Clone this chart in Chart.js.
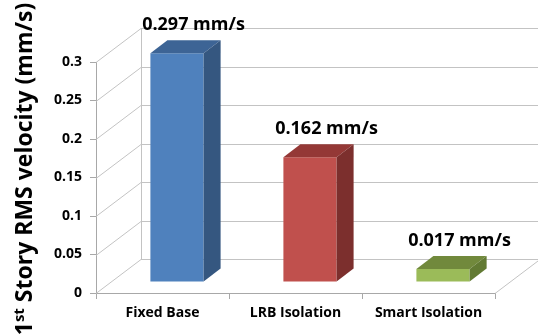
<!DOCTYPE html>
<html>
<head>
<meta charset="utf-8">
<script src="https://cdn.jsdelivr.net/npm/chart.js@4.4.1/dist/chart.umd.min.js"></script>
<style>
  html, body { margin: 0; padding: 0; background: #ffffff; }
  #wrap { width: 538px; height: 335px; }
</style>
</head>
<body>
<div id="wrap"><canvas id="rmsChart" width="538" height="335"></canvas></div>
<script>
// RMS velocity of the first story for each base type
const categories = ['Fixed Base', 'LRB Isolation', 'Smart Isolation'];
const rmsVelocity = [0.297, 0.162, 0.017];
const yTickLabels = ['0', '0.05', '0.1', '0.15', '0.2', '0.25', '0.3'];
const valueUnit = 'mm/s';

// face colours: front / top / side
const frontColors = ['#4f81bd', '#c0504d', '#9bbb59'];
const topColors = ['#3d6495', '#943836', '#71893c'];
const sideColors = ['#355780', '#7c2f2d', '#627a33'];

const FONT = '"Open Sans", "DejaVu Sans", sans-serif';

// 3D geometry (pixels)
const WALL = { dx: 45, dy: -34 };   // depth of the floor / back wall
const SHIFT = { dx: 14.5, dy: -11 }; // where the bar front sits inside the depth
const BAR = { dx: 17, dy: -13 };     // bar depth

const gridColor = '#c3c3c3';
const axisColor = '#a8a8a8';

function line(ctx, x1, y1, x2, y2) {
  ctx.beginPath();
  ctx.moveTo(x1, y1);
  ctx.lineTo(x2, y2);
  ctx.stroke();
}

const box3d = {
  id: 'box3d',
  beforeDatasetsDraw(chart) {
    const ctx = chart.ctx;
    const { left, right, top, bottom } = chart.chartArea;
    const y = chart.scales.y;
    ctx.save();
    ctx.strokeStyle = gridColor;
    ctx.lineWidth = 1;
    // diagonals and back wall gridlines
    y.ticks.forEach(t => {
      const py = Math.round(y.getPixelForValue(t.value)) + 0.5;
      line(ctx, left, py, left + WALL.dx, py + WALL.dy);
      line(ctx, left + WALL.dx, py + WALL.dy, chart.width + 5, py + WALL.dy);
    });
    line(ctx, left + WALL.dx + 0.5, top + WALL.dy, left + WALL.dx + 0.5, bottom + WALL.dy);
    // right edge of the floor
    line(ctx, right, bottom + 0.5, right + WALL.dx, bottom + WALL.dy + 0.5);
    ctx.restore();

    // bars are drawn on a plane set back into the depth
    ctx.save();
    ctx.translate(SHIFT.dx, SHIFT.dy);
  },
  afterDatasetsDraw(chart) {
    const ctx = chart.ctx;
    const meta = chart.getDatasetMeta(0);
    meta.data.forEach((bar, i) => {
      const { x, y, base, width } = bar.getProps(['x', 'y', 'base', 'width'], true);
      const l = x - width / 2, r = x + width / 2;
      // top face
      ctx.fillStyle = topColors[i];
      ctx.beginPath();
      ctx.moveTo(l, y);
      ctx.lineTo(l + BAR.dx, y + BAR.dy);
      ctx.lineTo(r + BAR.dx, y + BAR.dy);
      ctx.lineTo(r, y);
      ctx.closePath();
      ctx.fill();
      // side face
      ctx.fillStyle = sideColors[i];
      ctx.beginPath();
      ctx.moveTo(r, y);
      ctx.lineTo(r + BAR.dx, y + BAR.dy);
      ctx.lineTo(r + BAR.dx, base + BAR.dy);
      ctx.lineTo(r, base);
      ctx.closePath();
      ctx.fill();
      // value label above the box
      ctx.fillStyle = '#000000';
      ctx.font = 'bold 18px ' + FONT;
      ctx.textAlign = 'center';
      ctx.textBaseline = 'middle';
      ctx.fillText(rmsVelocity[i] + ' ' + valueUnit, x + BAR.dx / 2 + 8, y + BAR.dy - 15);
    });
    ctx.restore();
  },
  afterDraw(chart) {
    // rotated axis title with superscript "st"
    const ctx = chart.ctx;
    const main = 'bold 23px ' + FONT;
    const sup = 'bold 15px ' + FONT;
    const parts = [['1', main, 0], ['st', sup, -8], [' Story RMS velocity (mm/s)', main, 0]];
    let total = 0;
    parts.forEach(p => { ctx.font = p[1]; total += ctx.measureText(p[0]).width; });
    ctx.save();
    ctx.translate(32, 169);
    ctx.rotate(-Math.PI / 2);
    ctx.fillStyle = '#000000';
    ctx.textBaseline = 'alphabetic';
    ctx.textAlign = 'left';
    let cx = -total / 2;
    parts.forEach(p => {
      ctx.font = p[1];
      ctx.fillText(p[0], cx, p[2]);
      cx += ctx.measureText(p[0]).width;
    });
    ctx.restore();
  }
};

new Chart(document.getElementById('rmsChart'), {
  type: 'bar',
  data: {
    labels: categories,
    datasets: [{
      data: rmsVelocity,
      backgroundColor: frontColors,
      borderWidth: 0,
      barPercentage: 0.4,
      categoryPercentage: 1.0,
      clip: false
    }]
  },
  options: {
    responsive: false,
    animation: false,
    events: [],
    layout: { padding: { left: 0, top: 62, right: 43, bottom: 0 } },
    plugins: {
      legend: { display: false },
      tooltip: { enabled: false }
    },
    scales: {
      x: {
        afterFit(scale) { scale.height = 42; },
        grid: {
          offset: true,
          drawOnChartArea: false,
          tickLength: 6,
          color: axisColor
        },
        border: { color: axisColor },
        ticks: {
          maxRotation: 0,
          padding: 6,
          color: '#000000',
          font: { family: FONT, size: 14, weight: 'bold' }
        }
      },
      y: {
        min: 0,
        max: 0.3,
        afterFit(scale) { scale.width = 96; },
        grid: {
          drawOnChartArea: false,
          tickLength: 6,
          color: axisColor
        },
        border: { color: axisColor },
        ticks: {
          stepSize: 0.05,
          padding: 8,
          color: '#000000',
          font: { family: FONT, size: 14, weight: 'bold' },
          callback: (value, index) => yTickLabels[index]
        }
      }
    }
  },
  plugins: [box3d]
});
</script>
</body>
</html>
